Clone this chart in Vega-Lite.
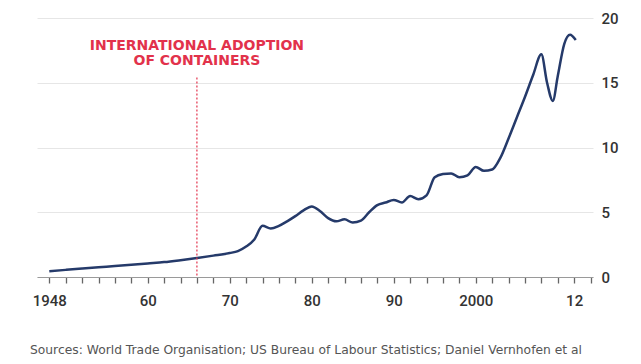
{
  "$schema": "https://vega.github.io/schema/vega-lite/v6.json",
  "width": 556,
  "height": 259,
  "autosize": {"type": "none"},
  "padding": {"left": 37, "top": 18, "right": 48, "bottom": 87},
  "background": "#ffffff",
  "config": {"view": {"stroke": null}, "font": "Roboto"},
  "title": {
    "text": "Sources: World Trade Organisation; US Bureau of Labour Statistics; Daniel Vernhofen et al",
    "orient": "bottom",
    "anchor": "start",
    "frame": "group",
    "dx": -7,
    "offset": 36,
    "font": "DejaVu Sans",
    "fontSize": 12.3,
    "fontWeight": "normal",
    "color": "#555555"
  },
  "datasets": {
    "series": [
      {"year": 1948, "value": 0.45},
      {"year": 1950, "value": 0.55},
      {"year": 1952, "value": 0.65},
      {"year": 1954, "value": 0.75},
      {"year": 1956, "value": 0.85},
      {"year": 1958, "value": 0.95},
      {"year": 1960, "value": 1.05},
      {"year": 1962, "value": 1.15},
      {"year": 1964, "value": 1.3},
      {"year": 1966, "value": 1.47},
      {"year": 1968, "value": 1.65},
      {"year": 1970, "value": 1.85},
      {"year": 1971, "value": 2.0},
      {"year": 1972, "value": 2.35},
      {"year": 1973, "value": 2.9},
      {"year": 1974, "value": 3.95},
      {"year": 1975, "value": 3.75},
      {"year": 1976, "value": 3.95},
      {"year": 1977, "value": 4.3},
      {"year": 1978, "value": 4.7},
      {"year": 1979, "value": 5.15},
      {"year": 1980, "value": 5.45},
      {"year": 1981, "value": 5.1},
      {"year": 1982, "value": 4.55},
      {"year": 1983, "value": 4.3},
      {"year": 1984, "value": 4.45},
      {"year": 1985, "value": 4.2},
      {"year": 1986, "value": 4.35},
      {"year": 1987, "value": 5.0},
      {"year": 1988, "value": 5.55},
      {"year": 1989, "value": 5.75},
      {"year": 1990, "value": 5.95},
      {"year": 1991, "value": 5.75},
      {"year": 1992, "value": 6.25},
      {"year": 1993, "value": 6.0},
      {"year": 1994, "value": 6.3},
      {"year": 1995, "value": 7.7},
      {"year": 1996, "value": 7.95},
      {"year": 1997, "value": 8.0},
      {"year": 1998, "value": 7.7},
      {"year": 1999, "value": 7.85},
      {"year": 2000, "value": 8.5},
      {"year": 2001, "value": 8.2},
      {"year": 2002, "value": 8.3},
      {"year": 2003, "value": 9.2},
      {"year": 2004, "value": 10.7},
      {"year": 2005, "value": 12.3},
      {"year": 2006, "value": 13.9},
      {"year": 2007, "value": 15.6},
      {"year": 2008, "value": 17.2},
      {"year": 2008.7, "value": 15.0},
      {"year": 2009.4, "value": 13.6},
      {"year": 2010, "value": 15.5},
      {"year": 2010.8, "value": 18.0},
      {"year": 2011.5, "value": 18.7},
      {"year": 2012.2, "value": 18.3}
    ],
    "event": [
      {"year": 1966, "label": ["INTERNATIONAL ADOPTION", "OF CONTAINERS"]}
    ]
  },
  "encoding": {
    "x": {
      "field": "year",
      "type": "quantitative",
      "scale": {"domain": [1946.5, 2014.3], "nice": false, "zero": false},
      "axis": {
        "title": null,
        "tickCount": 34,
        "labelExpr": "datum.value == 1948 ? '1948' : datum.value == 1960 ? '60' : datum.value == 1970 ? '70' : datum.value == 1980 ? '80' : datum.value == 1990 ? '90' : datum.value == 2000 ? '2000' : datum.value == 2012 ? '12' : ''",
        "labelOverlap": false,
        "labelFlush": false,
        "labelFont": "Roboto",
        "labelFontSize": 15,
        "labelFontWeight": 500,
        "labelColor": "#333333",
        "labelPadding": 10,
        "ticks": true,
        "tickSize": 6,
        "tickWidth": 1.3,
        "tickColor": "#666666",
        "domain": true,
        "domainColor": "#9a9a9a",
        "grid": false
      }
    }
  },
  "layer": [
    {
      "data": {"name": "series"},
      "mark": {"type": "line", "color": "#253a6a", "strokeWidth": 2.5, "interpolate": "monotone"},
      "encoding": {
        "y": {
          "field": "value",
          "type": "quantitative",
          "scale": {"domain": [0, 20], "nice": false},
          "axis": {
            "title": null,
            "orient": "right",
            "values": [0, 5, 10, 15, 20],
            "domain": false,
            "ticks": false,
            "labelPadding": 8,
            "labelFont": "Roboto",
            "labelFontSize": 15,
            "labelFontWeight": 500,
            "labelColor": "#333333",
            "grid": true,
            "gridColor": "#e6e6e6",
            "gridWidth": 1
          }
        }
      }
    },
    {
      "data": {"name": "event"},
      "mark": {"type": "rule", "color": "#e2324b", "strokeWidth": 1.2, "strokeDash": [2, 2]},
      "encoding": {
        "y": {"datum": 15.4},
        "y2": {"datum": 0}
      }
    },
    {
      "data": {"name": "event"},
      "mark": {"type": "text", "color": "#e2324b", "font": "DejaVu Sans", "fontSize": 14, "fontWeight": "bold", "lineHeight": 15, "align": "center", "baseline": "middle"},
      "encoding": {
        "y": {"datum": 17.8},
        "text": {"field": "label"}
      }
    }
  ]
}
